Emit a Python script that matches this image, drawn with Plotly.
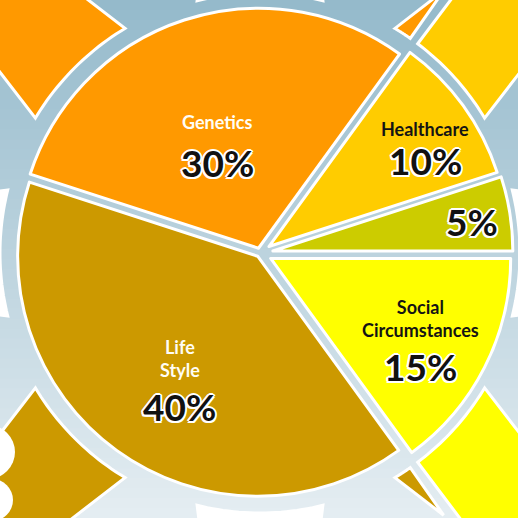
import math
import plotly.graph_objects as go

# ---- data -------------------------------------------------------------
categories = ["Social Circumstances", "Life Style", "Genetics", "Healthcare", ""]
shown_names = ["Social<br>Circumstances", "Life<br>Style", "Genetics", "Healthcare", ""]
values = [15, 40, 30, 10, 5]
slice_colors = ["#FFFF00", "#CC9900", "#FF9900", "#FFCC00", "#CCCC00"]
name_colors = ["#141414", "#FFFDF5", "#FFFDF5", "#141414", "#141414"]

# ---- geometry (pixels) ------------------------------------------------
W = H = 518
CX, CY = 260, 253           # pie centre
BOX_HALF = 253              # half size of the pie domain box
pull_px = [12, 4, 5, 11, 13]
R = BOX_HALF - max(pull_px)  # plotly shrinks the radius by the largest pull
pulls = [p / R for p in pull_px]
ROTATION = 90               # first slice starts at 3 o'clock, clockwise

total = sum(values)
starts, mids = [], []
acc = ROTATION
for v in values:
    span = 360 * v / total
    starts.append(acc)
    mids.append(acc + span / 2)
    acc += span
slice_ranges = [(s, s + 360 * v / total) for s, v in zip(starts, values)]


def unit(deg):
    a = math.radians(deg)
    return math.sin(a), -math.cos(a)


def to_paper(px, py):
    return px / W, 1 - py / H


# ---- background gradient ---------------------------------------------
def mix(c1, c2, t):
    return "rgb({},{},{})".format(*[round(a + (b - a) * t) for a, b in zip(c1, c2)])


shapes = []
top_c, bot_c = (148, 185, 203), (229, 238, 242)
bands = 52
for i in range(bands):
    y0, y1 = i * H / bands, (i + 1) * H / bands
    shapes.append(dict(type="rect", xref="paper", yref="paper", layer="below",
                       x0=0, x1=1, y0=1 - y1 / H - 0.002, y1=1 - y0 / H,
                       fillcolor=mix(top_c, bot_c, (i + 0.5) / bands),
                       line=dict(width=0)))

# ---- sun rays behind the pie ------------------------------------------
# diagonal rays take the colour of the slice they sit in, upright ones are white
RAY_IN = 262
RAY_IN_UPRIGHT = 260
RAY_TIP = 750
RAY_HALF = 14
RAY_GAP = 1.0


def ray_radius(theta, axis, r_in):
    side = 1 if theta >= axis else -1
    px, py = [r_in * c for c in unit(axis + side * RAY_HALF)]
    ax, ay = [RAY_TIP * c for c in unit(axis)]
    ux, uy = unit(theta)
    dx, dy = ax - px, ay - py
    det = ux * (-dy) - uy * (-dx)
    return (px * (-dy) - py * (-dx)) / det


def ray_piece(axis, lo, hi, r_in, fill):
    pts = []
    n = 24
    for j in range(n + 1):
        th = lo + (hi - lo) * j / n
        ux, uy = unit(th)
        pts.append((CX + r_in * ux, CY + r_in * uy))
    outer = [hi]
    if lo < axis < hi:
        outer.append(axis)
    outer.append(lo)
    for th in outer:
        rr = ray_radius(th, axis, r_in)
        ux, uy = unit(th)
        pts.append((CX + rr * ux, CY + rr * uy))
    path = "M " + " L ".join("{:.4f},{:.4f}".format(*to_paper(*p)) for p in pts) + " Z"
    return dict(type="path", xref="paper", yref="paper", layer="below",
                path=path, fillcolor=fill, line=dict(color="white", width=3))


for axis in range(0, 360, 45):
    if axis % 90 == 0:
        shapes.append(ray_piece(axis, axis - RAY_HALF, axis + RAY_HALF, RAY_IN_UPRIGHT, "white"))
        continue
    for (t1, t2), col in zip(slice_ranges, slice_colors):
        for k in (-360, 0, 360):
            lo = max(axis - RAY_HALF, t1 + k + RAY_GAP)
            hi = min(axis + RAY_HALF, t2 + k - RAY_GAP)
            if hi > lo:
                shapes.append(ray_piece(axis, lo, hi, RAY_IN, col))

# white cloud edge in the lower-left corner
for (bx, by, br) in [(-12, 452, 27), (-8, 500, 21)]:
    x0, y0 = to_paper(bx - br, by - br)
    x1, y1 = to_paper(bx + br, by + br)
    shapes.append(dict(type="circle", xref="paper", yref="paper", layer="below",
                       x0=x0, x1=x1, y0=y1, y1=y0, fillcolor="white",
                       line=dict(width=0)))

# ---- pie ---------------------------------------------------------------
fig = go.Figure(go.Pie(
    labels=categories,
    values=values,
    sort=False,
    direction="clockwise",
    rotation=ROTATION,
    pull=pulls,
    marker=dict(colors=slice_colors, line=dict(color="white", width=3)),
    textinfo="none",
    hoverinfo="skip",
    showlegend=False,
    domain=dict(x=[(CX - BOX_HALF) / W, (CX + BOX_HALF) / W],
                y=[max(0, 1 - (CY + BOX_HALF) / H), min(1, 1 - (CY - BOX_HALF) / H)]),
))

# ---- labels ------------------------------------------------------------
label_frac = [0.77, 0.706, 0.395, 0.743, 0.84]
label_turn = [8.7, -8.6, -7.5, 7.3, 0.7]
name_gap = [48, 48, 41, 32, 0]
outline = ",".join("{}px {}px 0 #fff".format(dx, dy) for dx, dy in
                   [(2, 0), (-2, 0), (0, 2), (0, -2), (1.5, 1.5), (-1.5, -1.5), (1.5, -1.5), (-1.5, 1.5)])

annotations = []
for name, v, mid, p, f, turn, gap, ncol in zip(shown_names, values, mids, pull_px,
                                               label_frac, label_turn, name_gap, name_colors):
    ux, uy = unit(mid)
    bx, by = CX + p * ux, CY + p * uy
    lx, ly = unit(mid + turn)
    xp, yp = to_paper(bx + f * R * lx, by + f * R * ly)
    annotations.append(dict(x=xp, y=yp, xref="paper", yref="paper", showarrow=False,
                            xanchor="center", yanchor="middle", text="{}%".format(v),
                            font=dict(family="Lato", size=37, color="#111111",
                                      weight=700, shadow=outline)))
    if name:
        annotations.append(dict(x=xp, y=yp, xref="paper", yref="paper", showarrow=False,
                                xanchor="center", yanchor="middle", yshift=gap, text=name,
                                font=dict(family="Lato", size=18, color=ncol, weight=700)))

fig.update_layout(
    width=W, height=H,
    margin=dict(l=0, r=0, t=0, b=0),
    paper_bgcolor="#c0d4de",
    plot_bgcolor="#c0d4de",
    shapes=shapes,
    annotations=annotations,
)

fig.write_html("out.html")
